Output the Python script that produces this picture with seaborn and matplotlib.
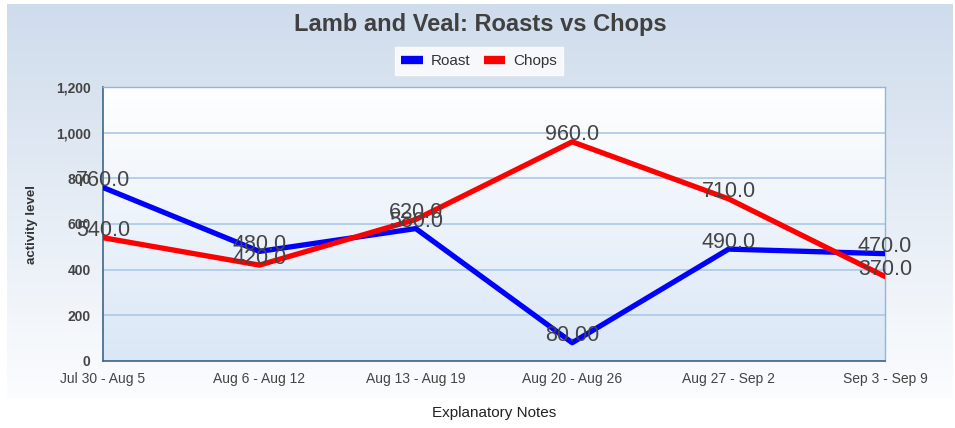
import numpy as np
import pandas as pd
import matplotlib
matplotlib.use("Agg")
import matplotlib.pyplot as plt
from matplotlib.ticker import FuncFormatter, MultipleLocator
from matplotlib.lines import Line2D
import seaborn as sns

weeks = ["Jul 30 - Aug 5", "Aug 6 - Aug 12", "Aug 13 - Aug 19",
         "Aug 20 - Aug 26", "Aug 27 - Sep 2", "Sep 3 - Sep 9"]
roast = [760, 480, 580, 80, 490, 470]
chops = [540, 420, 620, 960, 710, 370]
roast_labels = ["760.0", "480.0", "580.0", "80.00", "490.0", "470.0"]
chops_labels = ["540.0", "420.0", "620.0", "960.0", "710.0", "370.0"]

sns.set_theme(style="white")
plt.rcParams['font.family'] = ['Liberation Sans', 'DejaVu Sans']

df = pd.DataFrame({
    "week": list(range(len(weeks))) * 2,
    "value": roast + chops,
    "series": ["Roast"] * len(weeks) + ["Chops"] * len(weeks),
})

fig = plt.figure(figsize=(9.55, 4.28), dpi=100)
fig.patch.set_facecolor("white")

# outer gradient panel
bg = fig.add_axes([7 / 955, 1 - 398 / 428, 945 / 955, 394 / 428], zorder=-10)
grad = np.linspace(0, 1, 256).reshape(-1, 1)
top_c = np.array([0.812, 0.863, 0.925])
bot_c = np.array([0.985, 0.99, 0.997])
img = top_c + (bot_c - top_c) * grad
bg.imshow(img[:, None, :].repeat(2, axis=1), aspect="auto", extent=[0, 1, 0, 1])
bg.set_axis_off()

ax = fig.add_axes([103 / 955, 1 - 361 / 428, 782 / 955, 274 / 428])
ptop = np.array([1.0, 1.0, 1.0])
pbot = np.array([0.855, 0.906, 0.965])
pimg = ptop + (pbot - ptop) * grad
ax.imshow(pimg[:, None, :].repeat(2, axis=1), aspect="auto",
          extent=[0, 1, 0, 1], transform=ax.transAxes, zorder=0)

sns.lineplot(data=df, x="week", y="value", hue="series",
             palette={"Roast": "#0000ff", "Chops": "#ff0000"},
             linewidth=3.8, ax=ax, legend=False, zorder=3)

# value labels above each point
for vals, labs in [(roast, roast_labels), (chops, chops_labels)]:
    for i, (v, t) in enumerate(zip(vals, labs)):
        ax.annotate(t, (i, v), xytext=(0, 5), textcoords="offset points",
                    ha="center", va="center", fontsize=15.5, color="#444444",
                    zorder=5, annotation_clip=False)

ax.set_xlim(0, len(weeks) - 1)
ax.set_ylim(0, 1200)
ax.yaxis.set_major_locator(MultipleLocator(200))
ax.yaxis.set_major_formatter(FuncFormatter(lambda v, p: f"{int(v):,}"))
ax.set_xticks(range(len(weeks)))
ax.set_xticklabels(weeks)
ax.grid(axis="y", color="#a9c9e6", linewidth=1.2, zorder=1)
ax.set_axisbelow(True)
for lab in ax.get_yticklabels():
    lab.set_fontweight("bold")
ax.tick_params(axis="y", labelsize=10, colors="#444444", length=0, pad=9)
ax.tick_params(axis="x", labelsize=10, colors="#444444", length=0, pad=8)
for side in ["left", "bottom"]:
    ax.spines[side].set_color("#3f6688")
    ax.spines[side].set_linewidth(1.2)
for side in ["top", "right"]:
    ax.spines[side].set_color("#8ab8e0")
    ax.spines[side].set_linewidth(1.0)

ax.set_xlabel("Explanatory Notes", fontsize=11, color="#222222", labelpad=14)
ax.set_ylabel("activity level", fontsize=9.5, fontweight="bold", color="#333333", labelpad=13)

fig.text(0.503, 1 - 25 / 428, "Lamb and Veal: Roasts vs Chops", ha="center", va="center",
         fontsize=17, fontweight="bold", color="#404040")

handles = [Line2D([], [], color="#0000ff", linewidth=6, solid_capstyle="butt"),
           Line2D([], [], color="#ff0000", linewidth=6, solid_capstyle="butt")]
leg = fig.legend(handles, ["Roast", "Chops"], loc="center", ncol=2,
                 bbox_to_anchor=(479 / 955, 1 - 61 / 428), frameon=True,
                 fancybox=False, fontsize=11, handlelength=1.4, handletextpad=0.5,
                 columnspacing=0.9, borderpad=0.45)
leg.get_frame().set_facecolor("white")
leg.get_frame().set_edgecolor("white")
for t in leg.get_texts():
    t.set_color("#333333")

fig.savefig("out.png", dpi=100)
